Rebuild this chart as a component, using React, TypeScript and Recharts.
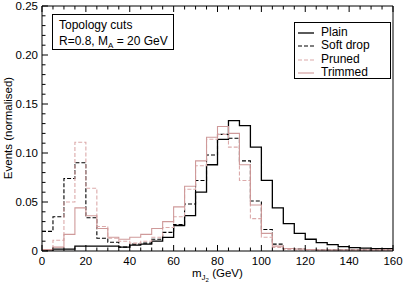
import React from 'react';
import { LineChart, Line, XAxis, YAxis } from 'recharts';

// bin lower edges (GeV), 5 GeV bins from 0 to 160
const binEdges = [0, 5, 10, 15, 20, 25, 30, 35, 40, 45, 50, 55, 60, 65, 70, 75, 80, 85, 90, 95, 100, 105, 110, 115, 120, 125, 130, 135, 140, 145, 150, 155];

const plain = [0.001, 0.002, 0.002, 0.005, 0.005, 0.005, 0.005, 0.004, 0.006, 0.007, 0.010, 0.014, 0.026, 0.036, 0.060, 0.088, 0.114, 0.133, 0.128, 0.106, 0.072, 0.044, 0.028, 0.018, 0.012, 0.0085, 0.0065, 0.0045, 0.0035, 0.003, 0.0025, 0.0025];
const softDrop = [0.020, 0.035, 0.074, 0.090, 0.034, 0.013, 0.009, 0.004, 0.007, 0.008, 0.012, 0.019, 0.027, 0.048, 0.072, 0.098, 0.119, 0.115, 0.092, 0.051, 0.022, 0.007, 0.0025, 0.002, 0.0015, 0.001, 0.001, 0.001, 0.001, 0.001, 0.001, 0.001];
const pruned = [0.001, 0.011, 0.050, 0.111, 0.064, 0.025, 0.013, 0.010, 0.008, 0.010, 0.014, 0.024, 0.035, 0.063, 0.087, 0.114, 0.119, 0.106, 0.072, 0.033, 0.014, 0.0035, 0.0015, 0.001, 0.001, 0.001, 0.001, 0.001, 0.001, 0.001, 0.001, 0.001];
const trimmed = [0.0015, 0.004, 0.017, 0.044, 0.036, 0.023, 0.014, 0.012, 0.014, 0.017, 0.023, 0.030, 0.045, 0.066, 0.092, 0.116, 0.127, 0.120, 0.088, 0.047, 0.018, 0.005, 0.0025, 0.002, 0.0015, 0.001, 0.001, 0.001, 0.001, 0.001, 0.001, 0.001];

const xTicks = Array.from({ length: 33 }, (_, i) => i * 5);
const yTicks = Array.from({ length: 26 }, (_, i) => i / 100);

const FONT = '"Liberation Sans", Arial, Helvetica, sans-serif';
const PINK = '#cf9a9a';
const PINK_LIGHT = '#dcaaaa';

// the step line needs a closing point at the upper edge of the last bin
const data = [
  ...binEdges.map((x, i) => ({ x, plain: plain[i], soft: softDrop[i], pruned: pruned[i], trimmed: trimmed[i] })),
  { x: 160, plain: plain[plain.length - 1], soft: softDrop[softDrop.length - 1], pruned: pruned[pruned.length - 1], trimmed: trimmed[trimmed.length - 1] },
];

const isMajorX = (v: number) => v % 20 === 0;
const isMajorY = (v: number) => Math.round(v * 100) % 5 === 0;

const BottomTick = (props: any) => {
  const { x, y, payload } = props;
  const major = isMajorX(payload.value);
  return (
    <g>
      <line x1={x} x2={x} y1={y} y2={y - (major ? 6 : 3.5)} stroke="#000" strokeWidth={1} />
      {major && (
        <text x={x} y={y + 14} textAnchor="middle" fontSize={11.5} fontFamily={FONT} fill="#000">{payload.value}</text>
      )}
    </g>
  );
};

const TopTick = (props: any) => {
  const { x, y, payload } = props;
  const major = isMajorX(payload.value);
  return <line x1={x} x2={x} y1={y} y2={y + (major ? 6 : 3.5)} stroke="#000" strokeWidth={1} />;
};

const LeftTick = (props: any) => {
  const { x, y, payload } = props;
  const major = isMajorY(payload.value);
  const label = payload.value === 0 ? '0' : payload.value.toFixed(2);
  return (
    <g>
      <line x1={x} x2={x + (major ? 6 : 3.5)} y1={y} y2={y} stroke="#000" strokeWidth={1} />
      {major && (
        <text x={x - 4} y={y + 4} textAnchor="end" fontSize={11.5} fontFamily={FONT} fill="#000">{label}</text>
      )}
    </g>
  );
};

const RightTick = (props: any) => {
  const { x, y, payload } = props;
  const major = isMajorY(payload.value);
  return <line x1={x} x2={x - (major ? 6 : 3.5)} y1={y} y2={y} stroke="#000" strokeWidth={1} />;
};

const legendItems = [
  { label: 'Plain', color: '#000', dash: undefined, width: 1.3 },
  { label: 'Soft drop', color: '#000', dash: '4 2', width: 1.1 },
  { label: 'Pruned', color: PINK_LIGHT, dash: '4 2', width: 1.1 },
  { label: 'Trimmed', color: PINK, dash: undefined, width: 1.1 },
];

export default function App() {
  return (
    <div style={{ position: 'absolute', left: 0, top: 0, width: 404, height: 286, background: '#fff', fontFamily: FONT }}>
      <LineChart width={404} height={286} data={data} margin={{ top: 0, right: 0, bottom: 0, left: 0 }}>
        <XAxis xAxisId="bottom" dataKey="x" type="number" domain={[0, 160]} ticks={xTicks} interval={0}
          height={35} tickSize={0} tickMargin={0} tick={<BottomTick />} axisLine={{ stroke: '#000' }} />
        <XAxis xAxisId="top" dataKey="x" type="number" domain={[0, 160]} ticks={xTicks} interval={0} orientation="top"
          height={6} tickSize={0} tickMargin={0} tick={<TopTick />} axisLine={{ stroke: '#000' }} />
        <YAxis yAxisId="left" type="number" domain={[0, 0.25]} ticks={yTicks} interval={0}
          width={42} tickSize={0} tickMargin={0} tick={<LeftTick />} axisLine={{ stroke: '#000' }} />
        <YAxis yAxisId="right" type="number" domain={[0, 0.25]} ticks={yTicks} interval={0} orientation="right"
          width={11} tickSize={0} tickMargin={0} tick={<RightTick />} axisLine={{ stroke: '#000' }} />
        <Line xAxisId="bottom" yAxisId="left" type="stepAfter" dataKey="plain" stroke="#000" strokeWidth={1.3} dot={false} isAnimationActive={false} />
        <Line xAxisId="bottom" yAxisId="left" type="stepAfter" dataKey="soft" stroke="#000" strokeWidth={1.1} strokeDasharray="4 2" dot={false} isAnimationActive={false} />
        <Line xAxisId="bottom" yAxisId="left" type="stepAfter" dataKey="pruned" stroke={PINK_LIGHT} strokeWidth={1.1} strokeDasharray="4 2" dot={false} isAnimationActive={false} />
        <Line xAxisId="bottom" yAxisId="left" type="stepAfter" dataKey="trimmed" stroke={PINK} strokeWidth={1.1} dot={false} isAnimationActive={false} />
      </LineChart>

      {/* axis titles */}
      <div style={{ position: 'absolute', left: 192, top: 267, fontSize: 11.5, lineHeight: '13px', whiteSpace: 'nowrap' }}>
        m<span style={{ fontSize: 8, position: 'relative', top: 3 }}>J<span style={{ fontSize: 6, position: 'relative', top: 2 }}>2</span></span> (GeV)
      </div>
      <div style={{ position: 'absolute', left: 8, top: 128, fontSize: 11.5, whiteSpace: 'nowrap', transform: 'translate(-50%, -50%) rotate(-90deg)' }}>
        Events (normalised)
      </div>

      {/* annotation box */}
      <div style={{ position: 'absolute', left: 52, top: 14, width: 122, height: 36, border: '1px solid #000', fontSize: 12, lineHeight: '16px', padding: '2px 0 0 6px', boxSizing: 'border-box', background: '#fff' }}>
        <div>Topology cuts</div>
        <div>R=0.8, M<span style={{ fontSize: 8, position: 'relative', top: 3 }}>A</span> = 20 GeV</div>
      </div>

      {/* legend */}
      <div style={{ position: 'absolute', left: 294, top: 22, width: 97, height: 57, border: '1px solid #000', boxSizing: 'border-box', padding: '3px 0 0 2px', fontSize: 12, lineHeight: '13.4px', background: '#fff' }}>
        {legendItems.map((it) => (
          <div key={it.label} style={{ display: 'flex', alignItems: 'center' }}>
            <svg width={18} height={10} style={{ marginRight: 6 }}>
              <line x1={1} x2={17} y1={5} y2={5} stroke={it.color} strokeWidth={it.width} strokeDasharray={it.dash} />
            </svg>
            <span>{it.label}</span>
          </div>
        ))}
      </div>
    </div>
  );
}
